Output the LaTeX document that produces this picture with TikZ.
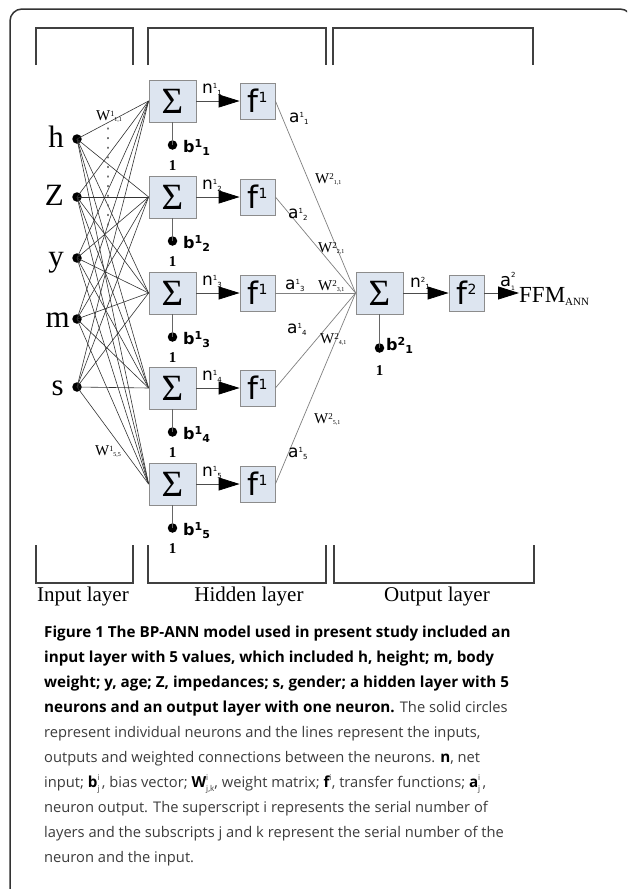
\documentclass[tikz,border=0pt]{standalone}
\usepackage{fontspec}
\setmainfont{Liberation Serif}
\setsansfont{DejaVu Sans}
\newfontfamily\capfont{Open Sans}
\usetikzlibrary{arrows.meta}
\definecolor{boxfill}{RGB}{221,229,240}
\definecolor{boxdraw}{RGB}{140,140,140}
\definecolor{captext}{RGB}{60,60,60}
\newcommand\fs[1]{\fontsize{#1}{#1}\selectfont}
% base + superscript + subscript (staggered)
\newcommand\ix[4]{\raisebox{0.25em}{\fs{#3}#1}\raisebox{-0.12em}{\fs{#4}#2}}
% bold variant
\newcommand\bix[4]{\raisebox{0.28em}{\fs{#3}\bfseries #1}\raisebox{-0.2em}{\fs{#4}\bfseries #2}}
% stacked superscript over subscript
\newcommand\sx[4]{\rlap{\raisebox{0.5em}{\fs{#3}#1}}\raisebox{-0.25em}{\fs{#4}#2}}
\newcommand\capb[1]{\textcolor{black}{\fs{15.2}\bfseries #1}}
\begin{document}
\begin{tikzpicture}[x=1pt,y=-1pt,
  frame/.style={line width=1.5pt, draw=black!80},
  brk/.style={line width=1.5pt, draw=black!75},
  sbox/.style={draw=boxdraw, fill=boxfill, line width=0.8pt, minimum width=47pt, minimum height=42pt, inner sep=0pt, font=\fs{37}},
  fbox/.style={draw=boxdraw, fill=boxfill, line width=0.8pt, minimum width=35pt, minimum height=36pt, inner sep=0pt, font=\sffamily\fs{31}},
  dot/.style={circle, fill=black, inner sep=0pt, minimum size=9.5pt},
  inw/.style={draw=black!80, line width=0.6pt},
  outw/.style={draw=black!50, line width=0.7pt},
  biasl/.style={draw=black!60, line width=0.8pt},
  arr/.style={draw=black!70, line width=0.8pt, -{Triangle[length=21pt,width=13pt,color=black,fill=black]}},
  inlab/.style={anchor=base east, inner sep=0pt, font=\fs{31}},
  layerlab/.style={anchor=base, inner sep=0pt, font=\fs{21}},
  wlab/.style={anchor=base west, inner sep=0pt, font=\fs{15}},
  alab/.style={anchor=base west, inner sep=0pt, font=\sffamily\fs{17}},
  blab/.style={anchor=base west, inner sep=0pt, font=\sffamily\bfseries\fs{16}},
  onelab/.style={anchor=base, inner sep=0pt, font=\bfseries\fs{15}},
  capline/.style={anchor=base west, inner sep=0pt, font=\capfont\fs{14.7}, text=captext},
]
\useasboundingbox (0,0) rectangle (627,889);
\fill[white] (0,0) rectangle (627,889);
\begin{scope}
  \clip (0,0) rectangle (627,889);
  \draw[frame, rounded corners=12pt] (10,9) rectangle (632,905);
\end{scope}

% layer brackets
\draw[brk] (36,65) -- (36,28) -- (133,28) -- (133,65);
\draw[brk] (148,65) -- (148,28) -- (326,28) -- (326,65);
\draw[brk] (333,65) -- (333,28) -- (533,28) -- (533,65);
\draw[brk] (36,545) -- (36,583) -- (133,583) -- (133,545);
\draw[brk] (148,545) -- (148,583) -- (326,583) -- (326,545);
\draw[brk] (334,545) -- (334,583) -- (534,583) -- (534,545);
\node[layerlab] (lin) at (83,601) {Input layer};
\node[layerlab] (lhid) at (249,601) {Hidden layer};
\node[layerlab] (lout) at (437,601) {Output layer};

% input nodes
\foreach \i/\y/\t/\xx in {1/139/h/64, 2/197/Z/64, 3/258/y/64, 4/319/m/70, 5/387/s/64}{
  \node[dot] (in\i) at (77,\y) {};
  \node[inlab] (t\i) at (\xx,\y+8) {\t};
}

% hidden neurons
\foreach \i/\y in {1/101, 2/197, 3/293, 4/388, 5/484}{
  \node[sbox] (s\i) at (172.5,\y) {Σ};
  \node[fbox] (f\i) at (257.5,\y) {f\raisebox{0.33em}{\fs{14}1}};
  \node[dot] (b\i) at (172.5,\y+44) {};
  \node[blab] (bl\i) at (183,\y+51) {b\bix{1}{\i}{11}{11}};
  \node[onelab] (one\i) at (172.5,\y+69) {1};
  \node[alab] (nl\i) at (202,\y-8) {n\ix{1}{\i}{7}{7}};
}

% input to hidden weights
\foreach \i in {1,...,5}{
  \foreach \j in {1,...,5}{
    \draw[inw] (in\i.center) -- (s\j.west);
  }
}
\draw[black!55, line width=1.1pt, dash pattern=on 1.1pt off 8.5pt, line cap=round] (108,128) -- (108,232);
\node[wlab] (w11) at (96,120) {W\ix{1}{1,1}{8}{6}};
\node[wlab] (w55) at (95,455) {W\ix{1}{5,5}{8}{6}};

% hidden sum -> transfer, bias lines
\foreach \i in {1,...,5}{
  \draw[arr] (s\i.east) -- (f\i.west);
  \draw[biasl] (s\i.south) -- (b\i.center);
}

% output neuron
\node[sbox] (o) at (379.5,293) {Σ};
\node[fbox] (fo) at (466.5,293) {f\raisebox{0.33em}{\fs{14}2}};
\node[dot] (ob) at (379.5,348) {};
\draw[biasl] (o.south) -- (ob.center);
\node[blab] (obl) at (386,350) {b\bix{2}{1}{11}{11}};
\node[onelab] (oone) at (379.5,375) {1};
\draw[arr] (o.east) -- (fo.west);
\node[alab] (onl) at (410,287) {n\ix{2}{1}{7}{7}};
\coordinate (outend) at (519,293);
\draw[arr] (fo.east) -- (outend);
\node[alab, font=\sffamily\fs{18}] (oal) at (500,286) {a\sx{2}{1}{7}{6}};
\node[anchor=base west, inner sep=0pt, font=\fs{23}] (ffm) at (519,302) {FFM\raisebox{-0.15em}{\fs{11}ANN}};

% hidden to output weights
\foreach \i in {1,...,5}{
  \draw[outw] (f\i.east) -- (o.west);
}
\node[alab] (al1) at (289,122) {a\ix{1}{1}{7}{7}};
\node[alab] (al2) at (288,218) {a\ix{1}{2}{7}{7}};
\node[alab] (al3) at (285,289) {a\ix{1}{3}{7}{7}};
\node[alab] (al4) at (287,333) {a\ix{1}{4}{7}{7}};
\node[alab] (al5) at (288,457) {a\ix{1}{5}{7}{7}};
\node[wlab] (w21) at (315,183) {W\ix{2}{1,1}{9}{6}};
\node[wlab] (w22) at (318,252) {W\ix{2}{2,1}{9}{6}};
\node[wlab] (w23) at (318,290) {W\ix{2}{3,1}{9}{6}};
\node[wlab] (w24) at (320,343) {W\ix{2}{4,1}{9}{6}};
\node[wlab] (w25) at (314,423) {W\ix{2}{5,1}{9}{6}};

% caption
\node[capline] (c1) at (44,637) {\capb{Figure 1 The BP-ANN model used in present study included an}};
\node[capline] (c2) at (44,662.1) {\capb{input layer with 5 values, which included h, height; m, body}};
\node[capline] (c3) at (44,687.2) {\capb{weight; y, age; Z, impedances; s, gender; a hidden layer with 5}};
\node[capline] (c4) at (44,712.3) {\capb{neurons and an output layer with one neuron.} The solid circles};
\node[capline] (c5) at (44,737.4) {represent individual neurons and the lines represent the inputs,};
\node[capline] (c6) at (44,762.5) {outputs and weighted connections between the neurons. \capb{n}, net};
\node[capline] (c7) at (44,787.6) {input; \capb{b}\sx{i}{j}{8}{8}\,, bias vector; \capb{W}\sx{i}{j,k}{8}{8}, weight matrix; \capb{f}\sx{i}{}{8}{8}\,, transfer functions; \capb{a}\sx{i}{j}{8}{8}\,,};
\node[capline] (c8) at (44,812.7) {neuron output. The superscript i represents the serial number of};
\node[capline] (c9) at (44,837.8) {layers and the subscripts j and k represent the serial number of the};
\node[capline] (c10) at (44,862.9) {neuron and the input.};
\end{tikzpicture}
\end{document}
